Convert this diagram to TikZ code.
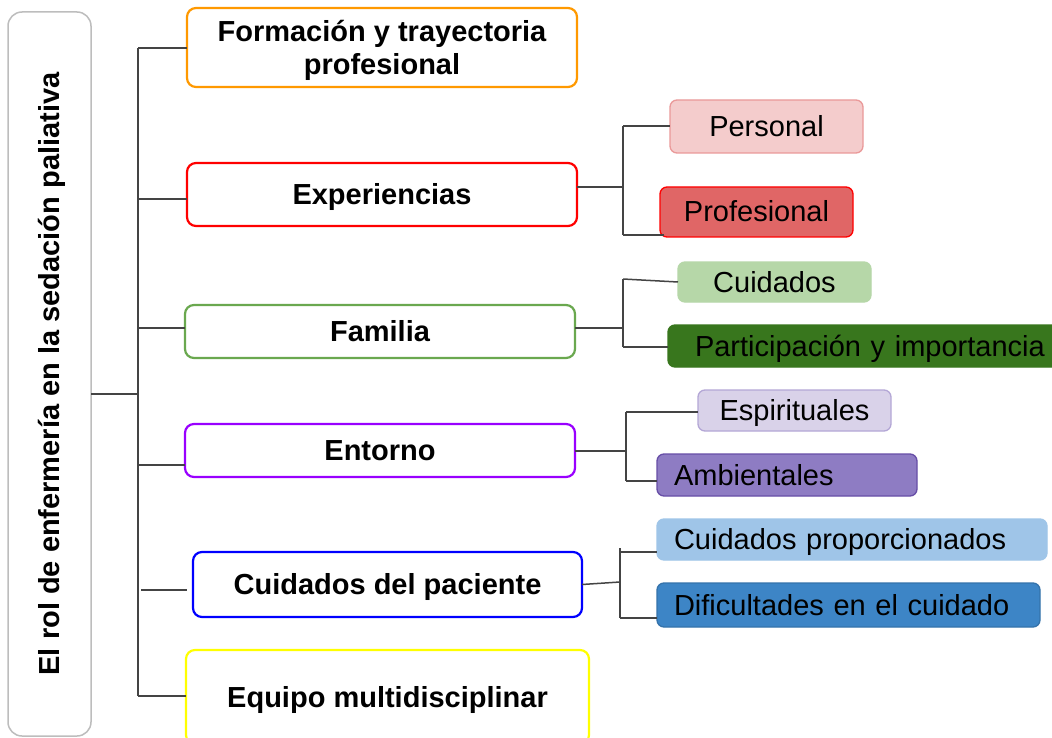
\documentclass[tikz,border=0pt]{standalone}
\usepackage{fontspec}
\setmainfont{Liberation Sans}
\usetikzlibrary{calc}
\definecolor{cOrange}{HTML}{FF9900}
\definecolor{cRed}{HTML}{FF0000}
\definecolor{cGreen}{HTML}{6AA84F}
\definecolor{cPurple}{HTML}{9900FF}
\definecolor{cBlue}{HTML}{0000FF}
\definecolor{cYellow}{HTML}{FFFF00}
\definecolor{cGray}{HTML}{BDBDBD}
\definecolor{cLine}{HTML}{444444}
\definecolor{fPers}{HTML}{F4CCCC}\definecolor{dPers}{HTML}{EA9999}
\definecolor{fProf}{HTML}{E06666}
\definecolor{fCuid}{HTML}{B6D7A8}
\definecolor{fPart}{HTML}{38761D}
\definecolor{fEspi}{HTML}{D9D2E9}\definecolor{dEspi}{HTML}{B4A7D6}
\definecolor{fAmbi}{HTML}{8E7CC3}\definecolor{dAmbi}{HTML}{674EA7}
\definecolor{fCprop}{HTML}{9FC5E8}
\definecolor{fDifi}{HTML}{3D85C6}\definecolor{dDifi}{HTML}{3573AB}
\tikzset{
  mainbox/.style={draw=cGray, line width=1.5pt, rounded corners=14pt, inner sep=0pt, outer sep=0pt},
  lvlbox/.style={draw=#1, line width=2.2pt, rounded corners=9pt, inner sep=0pt, outer sep=0pt,
     font=\fontsize{29}{33}\selectfont\bfseries, align=center, text height=20pt, text depth=0pt},
  subbox/.style={rounded corners=7pt, inner sep=0pt, outer sep=0pt, line width=1.3pt,
     font=\fontsize{29}{35}\selectfont, text height=20pt, text depth=0pt},
  leftsub/.style={subbox, inner xsep=17pt, align=left},
  conn/.style={draw=cLine, line width=1.5pt},
}
\begin{document}
\begin{tikzpicture}[x=1pt,y=-1pt]
\clip (0,0) rectangle (1052,738);
\fill[white] (0,0) rectangle (1052,738);
% root
\node[mainbox, minimum width=83pt, minimum height=724pt] (main) at (49.5,374) {};
\node[rotate=90, font=\fontsize{29}{35}\selectfont\bfseries] (maintext) at (51.5,374) {El rol de enfermería en la sedación paliativa};
% level 1
\node[lvlbox=cOrange, minimum width=390pt, minimum height=79pt] (form) at (382,47.5) {};
\node[font=\fontsize{29}{33}\selectfont\bfseries, align=center, inner sep=0pt] (formtext) at (382,50) {Formación y trayectoria\\profesional};
\node[lvlbox=cRed, minimum width=390pt, minimum height=63pt] (exp) at (382,194.5) {Experiencias};
\node[lvlbox=cGreen, minimum width=390pt, minimum height=53pt] (fam) at (380,331.5) {Familia};
\node[lvlbox=cPurple, minimum width=390pt, minimum height=53pt] (ent) at (380,450.5) {Entorno};
\node[lvlbox=cBlue, minimum width=389pt, minimum height=65pt] (cui) at (387.5,584.5) {Cuidados del paciente};
\node[lvlbox=cYellow, minimum width=403pt, minimum height=94pt] (equ) at (387.5,697) {Equipo multidisciplinar};
% level 2
\node[subbox, fill=fPers, draw=dPers, minimum width=193pt, minimum height=53pt] (pers) at (766.5,126.5) {Personal};
\node[subbox, fill=fProf, draw=cRed, minimum width=193pt, minimum height=50pt] (prof) at (756.5,212) {Profesional};
\node[subbox, fill=fCuid, draw=fCuid, minimum width=193pt, minimum height=40pt] (cuid) at (774.5,282) {Cuidados};
\node[subbox, fill=fPart, draw=fPart, minimum height=42pt, inner xsep=27pt, text width=370pt, align=left] (part) at (880,346) {Participación y importancia};
\node[subbox, fill=fEspi, draw=dEspi, minimum width=193pt, minimum height=41pt] (espi) at (794.5,410.5) {Espirituales};
\node[leftsub, fill=fAmbi, draw=dAmbi, minimum width=260pt, minimum height=42pt, text width=226pt] (ambi) at (787,475) {Ambientales};
\node[leftsub, fill=fCprop, draw=fCprop, minimum width=390pt, minimum height=41pt, text width=356pt] (cprop) at (852,539.5) {Cuidados proporcionados};
\node[leftsub, fill=fDifi, draw=dDifi, minimum width=383pt, minimum height=44pt, text width=349pt] (difi) at (848.5,605) {Dificultades en el cuidado};
% trunk
\coordinate (rootj) at (139,394);
\coordinate (t0) at (138,48);
\coordinate (t6) at (138,696);
\coordinate (b1) at (138,199);
\coordinate (b2) at (138,328);
\coordinate (b3) at (138,465);
\coordinate (b4) at (141,590);
\draw[conn] (main.east |- rootj) -- (rootj);
\draw[conn] (t0) -- (t6);
\draw[conn] (t0) -- (t0 -| form.west);
\draw[conn] (b1) -- (b1 -| exp.west);
\draw[conn] (b2) -- (b2 -| fam.west);
\draw[conn] (b3) -- (b3 -| ent.west);
\draw[conn] (b4) -- ($(b4 -| cui.west)+(-6,0)$);
\draw[conn] (t6) -- (t6 -| equ.west);
% experiencias
\coordinate (e0) at (623,187);
\coordinate (e1) at (623,126);
\coordinate (e2) at (623,235);
\draw[conn] (e0 -| exp.east) -- (e0);
\draw[conn] (e1) -- (e2);
\draw[conn] (e1) -- (e1 -| pers.west);
\draw[conn] (e2) -- ($(e2 -| prof.west)+(4,0)$);
% familia
\coordinate (f0) at (623,328);
\coordinate (f1) at (623,279);
\coordinate (f2) at (623,347);
\draw[conn] (f0 -| fam.east) -- (f0);
\draw[conn] (f1) -- (f2);
\draw[conn] (f1) -- (cuid.west);
\draw[conn] (f2) -- (f2 -| part.west);
% entorno
\coordinate (n0) at (626,451);
\coordinate (n1) at (626,412);
\coordinate (n2) at (626,481);
\draw[conn] (n0 -| ent.east) -- (n0);
\draw[conn] (n1) -- (n2);
\draw[conn] (n1) -- (n1 -| espi.west);
\draw[conn] (n2) -- (n2 -| ambi.west);
% cuidados del paciente
\coordinate (c0) at (620,582);
\coordinate (c1) at (620,548);
\coordinate (c2) at (620,618);
\coordinate (c3) at (620,552);
\draw[conn] (cui.east) -- (c0);
\draw[conn] (c1) -- (c2);
\draw[conn] (c3) -- (c3 -| cprop.west);
\draw[conn] (c2) -- (c2 -| difi.west);
\end{tikzpicture}
\end{document}
